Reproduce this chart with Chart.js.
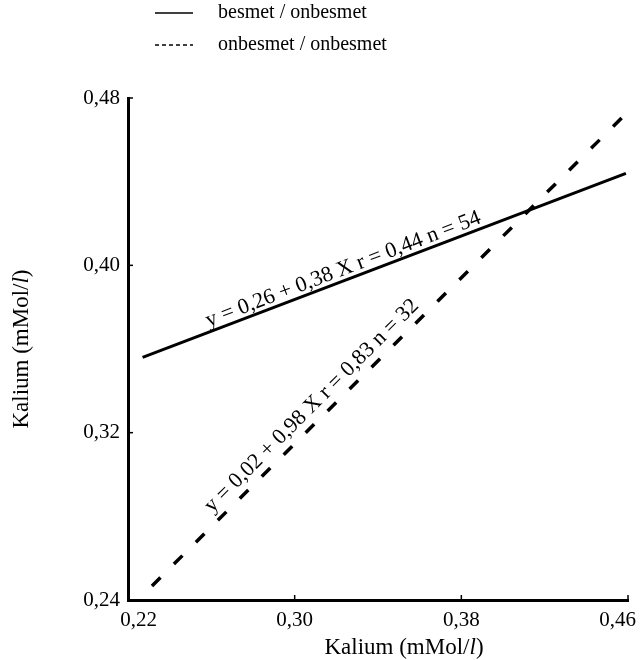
<!DOCTYPE html>
<html>
<head>
<meta charset="utf-8">
<script src="https://cdn.jsdelivr.net/npm/chart.js@4.4.1/dist/chart.umd.min.js"></script>
<style>
  html, body { margin: 0; padding: 0; background: #fff; }
  #wrap { width: 640px; height: 660px; }
</style>
</head>
<body>
<div id="wrap"><canvas id="kalium-chart"></canvas></div>
<script>
// values
const xTicks = [0.22, 0.30, 0.38, 0.46];
const yTicks = [0.24, 0.32, 0.40, 0.48];
const besmetX = [0.227, 0.459];
const besmetY = [0.356, 0.444];
const onbesmetX = [0.2315, 0.4595];
const onbesmetY = [0.2467, 0.473];
const seriesNames = ["besmet / onbesmet", "onbesmet / onbesmet"];
const lineLabels = [
  "y = 0,26 + 0,38 X r = 0,44 n = 54",
  "y = 0,02 + 0,98 X r = 0,83 n = 32",
];
const axisTitle = ["Kalium (mMol/", "l", ")"];

const SERIF = "'Liberation Serif', 'DejaVu Serif', serif";
const fmt = (v) => v.toFixed(2).replace(".", ",");

const toPoints = (xs, ys) => xs.map((x, i) => ({ x: x, y: ys[i] }));

function drawTitle(ctx, cx, cy) {
  const normal = "23px " + SERIF;
  const italic = "italic 23px " + SERIF;
  const fonts = [normal, italic, normal];
  const widths = axisTitle.map((s, i) => { ctx.font = fonts[i]; return ctx.measureText(s).width; });
  const total = widths.reduce((a, b) => a + b, 0);
  let x = cx - total / 2;
  ctx.textAlign = "left";
  ctx.textBaseline = "middle";
  axisTitle.forEach((s, i) => {
    ctx.font = fonts[i];
    ctx.fillText(s, x, cy);
    x += widths[i];
  });
}

const decor = {
  id: "decor",
  afterDatasetsDraw(chart) {
    const { ctx, chartArea, scales: { x, y } } = chart;
    ctx.save();
    ctx.fillStyle = "#000";
    ctx.strokeStyle = "#000";

    // small inward tick marks
    ctx.lineWidth = 1.5;
    xTicks.slice(1).forEach((v) => {
      const px = x.getPixelForValue(v);
      ctx.beginPath();
      ctx.moveTo(px, chartArea.bottom);
      ctx.lineTo(px, chartArea.bottom - 5);
      ctx.stroke();
    });
    yTicks.slice(1).forEach((v) => {
      const py = y.getPixelForValue(v);
      ctx.beginPath();
      ctx.moveTo(chartArea.left, py);
      ctx.lineTo(chartArea.left + 5, py);
      ctx.stroke();
    });

    // equations written along the lines
    const starts = [0.14, 0.14];
    const offsets = [5, 9];
    ctx.font = "22px " + SERIF;
    ctx.textAlign = "left";
    ctx.textBaseline = "alphabetic";
    chart.data.datasets.forEach((ds, i) => {
      const pts = chart.getDatasetMeta(i).data;
      const a = pts[0], b = pts[pts.length - 1];
      const ang = Math.atan2(b.y - a.y, b.x - a.x);
      const px = a.x + (b.x - a.x) * starts[i] + Math.sin(ang) * offsets[i];
      const py = a.y + (b.y - a.y) * starts[i] - Math.cos(ang) * offsets[i];
      ctx.save();
      ctx.translate(px, py);
      ctx.rotate(ang);
      ctx.fillText(lineLabels[i], 0, 0);
      ctx.restore();
    });

    // legend
    ctx.font = "20px " + SERIF;
    ctx.textBaseline = "middle";
    const legendY = [13, 45];
    chart.data.datasets.forEach((ds, i) => {
      ctx.lineWidth = 1.5;
      ctx.setLineDash(i === 0 ? [] : [4, 3]);
      ctx.beginPath();
      ctx.moveTo(155, legendY[i]);
      ctx.lineTo(193, legendY[i]);
      ctx.stroke();
      ctx.setLineDash([]);
      ctx.fillText(ds.label, 218, legendY[i]);
    });

    // axis titles
    drawTitle(ctx, 404, 648);
    ctx.save();
    ctx.translate(22, (chartArea.top + chartArea.bottom) / 2);
    ctx.rotate(-Math.PI / 2);
    drawTitle(ctx, 0, 0);
    ctx.restore();

    ctx.restore();
  },
};

const ctx = document.getElementById("kalium-chart").getContext("2d");

new Chart(ctx, {
  type: "line",
  data: {
    datasets: [
      {
        label: seriesNames[0],
        data: toPoints(besmetX, besmetY),
        borderColor: "#000",
        borderWidth: 3,
        pointRadius: 0,
        clip: false,
      },
      {
        label: seriesNames[1],
        data: toPoints(onbesmetX, onbesmetY),
        borderColor: "#000",
        borderWidth: 3.5,
        borderDash: [12, 19],
        pointRadius: 0,
        clip: false,
      },
    ],
  },
  options: {
    responsive: true,
    maintainAspectRatio: false,
    animation: false,
    layout: {
      padding: { left: 0, top: 98, right: 12, bottom: 0 },
    },
    plugins: {
      legend: { display: false },
      tooltip: { enabled: false },
    },
    scales: {
      x: {
        type: "linear",
        min: 0.22,
        max: 0.46,
        afterBuildTicks: (s) => { s.ticks = xTicks.map((v) => ({ value: v })); },
        afterFit: (s) => {
          s.height = 60;
          s.paddingLeft = 0;
          s.paddingRight = 0;
        },
        grid: { display: false, drawTicks: false },
        border: { display: true, color: "#000", width: 3 },
        ticks: {
          color: "#000",
          padding: 8,
          font: { family: SERIF, size: 21 },
          maxRotation: 0,
          // end labels sit a little inside the axis ends, as in the print
          callback: (v, i) => {
            if (i === 0) return "\u2002\u2002" + fmt(v);
            if (i === xTicks.length - 1) return fmt(v) + "\u2002\u2002";
            return fmt(v);
          },
        },
      },
      y: {
        type: "linear",
        min: 0.24,
        max: 0.48,
        afterBuildTicks: (s) => { s.ticks = yTicks.map((v) => ({ value: v })); },
        afterFit: (s) => {
          s.width = 128;
          s.paddingTop = 0;
          s.paddingBottom = 0;
        },
        grid: { display: false, drawTicks: false },
        border: { display: true, color: "#000", width: 3 },
        ticks: {
          color: "#000",
          padding: 8,
          font: { family: SERIF, size: 21 },
          callback: (v) => fmt(v),
        },
      },
    },
  },
  plugins: [decor],
});
</script>
</body>
</html>
